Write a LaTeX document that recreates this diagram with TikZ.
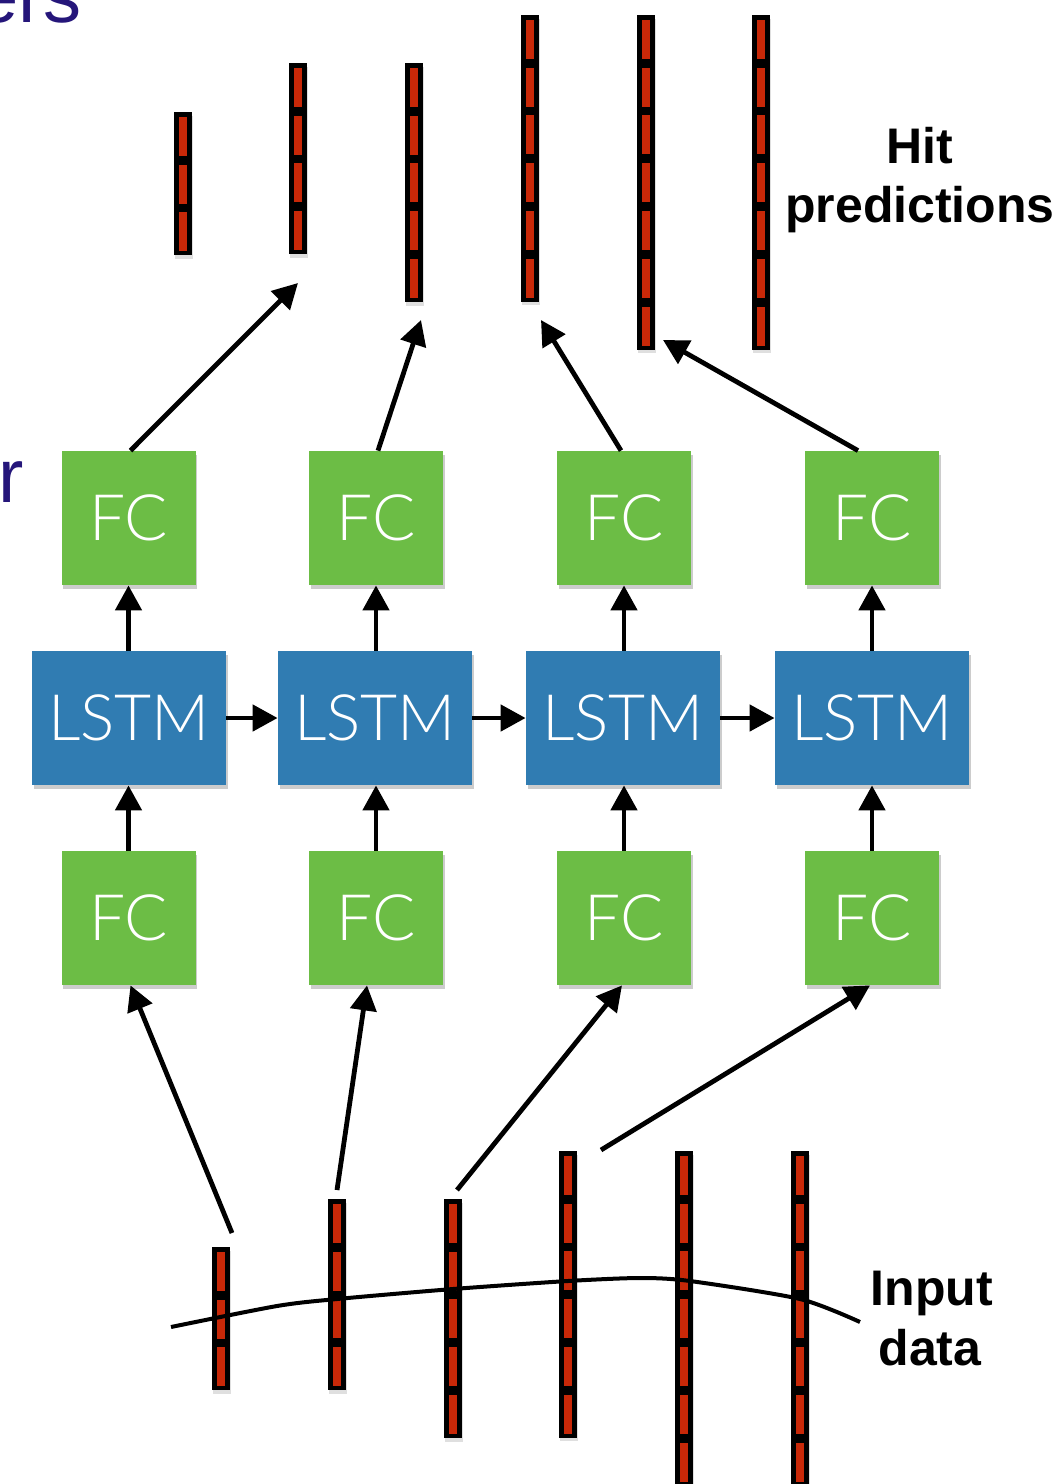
\documentclass[tikz,border=0pt]{standalone}
\usepackage{fontspec}
\setmainfont{Liberation Sans}
\newfontfamily\lightfont{Lato Light}
\usetikzlibrary{arrows.meta,shadows}

\definecolor{fcgreen}{RGB}{108,189,69}
\definecolor{lstmblue}{RGB}{48,124,178}
\definecolor{hitred}{RGB}{200,40,8}
\definecolor{titleink}{RGB}{37,22,122}

% one detector layer: black frame with red cells, x = centre, #2 = top, #3 = cells
\newcommand\cellbar[3]{%
  \fill[black, drop shadow={shadow xshift=0.6pt, shadow yshift=-1.8pt, opacity=0.25}]
    ({#1-9},#2) rectangle ({#1+9},{#2+47.8*#3});
  \foreach \k in {1,...,#3}{%
    \fill[hitred] ({#1-4.3},{#2+47.8*(\k-1)+4.8}) rectangle ({#1+4.3},{#2+47.8*\k-4});
  }%
}

\begin{document}
\begin{tikzpicture}[x=0.5pt, y=-0.5pt,
  boxshadow/.style={drop shadow={shadow xshift=0.8pt, shadow yshift=-2pt, opacity=0.4}},
  fcbox/.style={boxshadow, fill=fcgreen, minimum width=67pt, minimum height=67pt,
    inner sep=0pt, text=white, font=\lightfont\fontsize{32}{32}\selectfont},
  lstmbox/.style={boxshadow, fill=lstmblue, minimum width=97pt, minimum height=67pt,
    inner sep=0pt, text=white, font=\lightfont\fontsize{32}{32}\selectfont},
  conn/.style={line width=2.4pt, -{Triangle[length=12.5pt,width=13pt]}},
  label/.style={font=\bfseries\fontsize{25}{25}\selectfont, inner sep=0pt, anchor=base},
  cut/.style={text=titleink, font=\fontsize{38}{38}\selectfont, inner sep=0pt}
]
\useasboundingbox (0,0) rectangle (1062,1484);
\clip (0,0) rectangle (1062,1484);

% fragments of surrounding slide text
\node[cut, anchor=base east] (t1) at (82,22) {ers};
\node[cut, anchor=base east] (t2) at (24,502) {r};

% predicted hits (top) and input hits (bottom)
\cellbar{183}{112}{3}
\cellbar{298}{63}{4}
\cellbar{414}{63}{5}
\cellbar{530}{15}{6}
\cellbar{646}{15}{7}
\cellbar{761}{15}{7}

\cellbar{221}{1247}{3}
\cellbar{337}{1199}{4}
\cellbar{453}{1199}{5}
\cellbar{568}{1151}{6}
\cellbar{684}{1151}{7}
\cellbar{800}{1151}{7}

% particle track through the input layers
\draw[line width=2pt] plot[smooth, tension=0.45] coordinates
  {(171,1327) (277,1306) (337,1299) (453,1289) (568,1281) (640,1278) (690,1281) (800,1299) (860,1322)};

% network
\foreach \i/\x in {1/128.5, 2/376, 3/624, 4/872} {
  \node[fcbox] (fcT\i) at (\x,518) {FC};
  \node[fcbox] (fcB\i) at (\x,918) {FC};
}
\node[lstmbox] (ls1) at (129,718) {LSTM};
\node[lstmbox] (ls2) at (375,718) {LSTM};
\node[lstmbox] (ls3) at (623,718) {LSTM};
\node[lstmbox] (ls4) at (872,718) {LSTM};

\foreach \i in {1,...,4} {
  \draw[conn] (fcB\i.north) -- (fcB\i.north |- ls\i.south);
  \draw[conn] (fcT\i.south |- ls\i.north) -- (fcT\i.south);
}
\draw[conn] (ls1.east) -- (ls2.west);
\draw[conn] (ls2.east) -- (ls3.west);
\draw[conn] (ls3.east) -- (ls4.west);

% output arrows towards the predicted layers
\coordinate (o1) at (298,283);
\coordinate (o2) at (421,320);
\coordinate (o3) at (541,320);
\coordinate (o4) at (663,340);
\draw[conn] ([xshift=1pt]fcT1.north) -- (o1);
\draw[conn] ([xshift=1pt]fcT2.north) -- (o2);
\draw[conn] ([xshift=-1.5pt]fcT3.north) -- (o3);
\draw[conn] ([xshift=-7pt]fcT4.north) -- (o4);

% input arrows from the hit layers
\coordinate (i1) at (232,1233);
\coordinate (i2) at (337,1190);
\coordinate (i3) at (457,1190);
\coordinate (i4) at (601,1150);
\draw[conn] (i1) -- ([xshift=1pt]fcB1.south);
\draw[conn] (i2) -- ([xshift=-4.5pt]fcB2.south);
\draw[conn] (i3) -- ([xshift=-1pt]fcB3.south);
\draw[conn] (i4) -- ([xshift=-1pt]fcB4.south);

% labels
\node[label] (h1) at (920,163) {Hit};
\node[label] (h2) at (920,222) {predictions};
\node[label] (d1) at (932,1305) {Input};
\node[label] (d2) at (930,1365) {data};
\end{tikzpicture}
\end{document}
